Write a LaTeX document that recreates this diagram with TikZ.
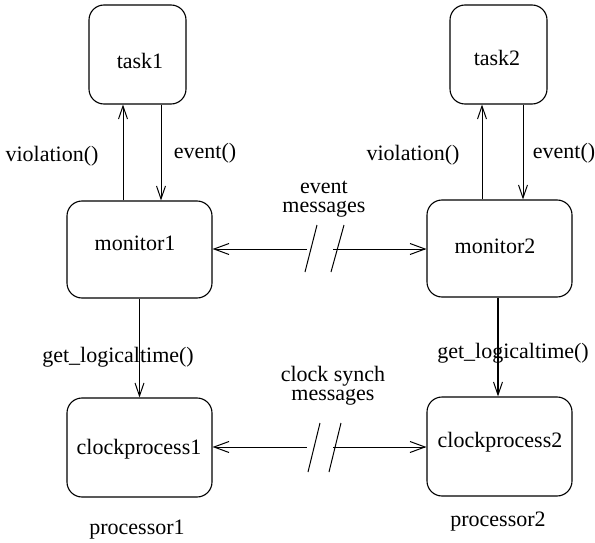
\documentclass[tikz,border=0pt]{standalone}
\usepackage{fontspec}
\setmainfont{Liberation Serif}
\usetikzlibrary{arrows.meta}
\begin{document}
\begin{tikzpicture}[x=1pt,y=-1pt,
  box/.style={draw,line width=1.1pt,rounded corners=15pt,inner sep=0pt},
  lbl/.style={inner sep=0pt,align=center,font=\fontsize{22}{19}\selectfont},
  conn/.style={line width=1pt},
  tip/.style={-{Straight Barb[length=13pt,width=9pt,line width=1pt]}},
  tips/.style={{Straight Barb[length=15pt,width=11pt,line width=1pt]}-},
  tipe/.style={-{Straight Barb[length=15pt,width=11pt,line width=1pt]}}]
\useasboundingbox (0,0) rectangle (595,543);
% boxes
\node[box,minimum width=97pt,minimum height=99pt] (task1) at (137.5,54.5) {};
\node[box,minimum width=97pt,minimum height=99pt] (task2) at (498.5,54.5) {};
\node[box,minimum width=145pt,minimum height=97pt] (monitor1) at (139.5,249.5) {};
\node[box,minimum width=145pt,minimum height=97pt] (monitor2) at (499.5,248.5) {};
\node[box,minimum width=145pt,minimum height=99pt] (clock1) at (139.5,447.5) {};
\node[box,minimum width=145pt,minimum height=99pt] (clock2) at (499.5,446.5) {};
% box texts
\node[lbl] (t1) at (140,61) {task1};
\node[lbl] (t2) at (497,58) {task2};
\node[lbl] (m1) at (135,243) {monitor1};
\node[lbl] (m2) at (495,246) {monitor2};
\node[lbl] (c1) at (139,449) {clockprocess1};
\node[lbl] (c2) at (500,442) {clockprocess2};
% vertical connectors
\coordinate (v1) at ([xshift=-16.5pt]monitor1.north);
\coordinate (e1) at ([xshift=21.5pt]monitor1.north);
\coordinate (v2) at ([xshift=-17.5pt]monitor2.north);
\coordinate (e2) at ([xshift=23.5pt]monitor2.north);
\coordinate (g1) at (monitor1.south);
\coordinate (g2) at ([xshift=-1.5pt]monitor2.south);
\draw[conn,tip] (v1) -- (task1.south -| v1);
\draw[conn,tip] (task1.south -| e1) -- (e1);
\draw[conn,tip] (v2) -- (task2.south -| v2);
\draw[conn,tip] (task2.south -| e2) -- (e2);
\draw[conn,line width=1.4pt,tip] (g1) -- (clock1.north -| g1);
\draw[conn,line width=1.4pt,tip] (g2) -- (clock2.north -| g2);
% horizontal broken connectors
\coordinate (ea) at (307,249);
\coordinate (eb) at (333,249);
\draw[conn,tips] (monitor1.east |- ea) -- (ea);
\draw[conn,tipe] (eb) -- (monitor2.west |- eb);
\coordinate (s1a) at (317,225); \coordinate (s1b) at (305,272);
\coordinate (s2a) at (344,225); \coordinate (s2b) at (331,272);
\draw[conn] (s1a) -- (s1b);
\draw[conn] (s2a) -- (s2b);
\coordinate (ca) at (307,447);
\coordinate (cb) at (333,447);
\draw[conn,tips] (clock1.east |- ca) -- (ca);
\draw[conn,tipe] (cb) -- (clock2.west |- cb);
\coordinate (s3a) at (320,423); \coordinate (s3b) at (308,472);
\coordinate (s4a) at (341,423); \coordinate (s4b) at (329,472);
\draw[conn] (s3a) -- (s3b);
\draw[conn] (s4a) -- (s4b);
% labels
\node[lbl] (lv1) at (52,156) {violation()};
\node[lbl] (le1) at (205,153) {event()};
\node[lbl] (lv2) at (413,155) {violation()};
\node[lbl] (le2) at (564,153) {event()};
\node[lbl] (lem) at (324,199) {event\\messages};
\node[lbl] (lg1) at (118,357) {get\_logicaltime()};
\node[lbl] (lg2) at (513,353) {get\_logicaltime()};
\node[lbl] (lcs) at (333,386) {clock synch\\messages};
\node[lbl] (p1) at (137,530) {processor1};
\node[lbl] (p2) at (498,522) {processor2};
\end{tikzpicture}
\end{document}
